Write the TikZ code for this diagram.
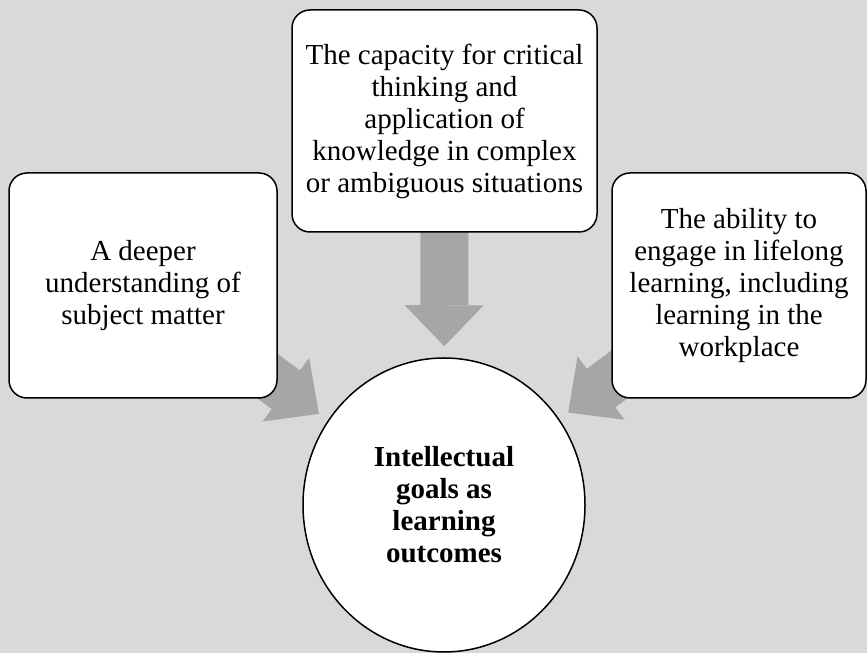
\documentclass[tikz,border=0pt]{standalone}
\usepackage{fontspec}
\setmainfont{Liberation Serif}
\usetikzlibrary{arrows.meta}
\usetikzlibrary{shapes.geometric}
\pgfdeclarelayer{paperlayer}
\pgfdeclarelayer{arrowlayer}
\pgfsetlayers{paperlayer,arrowlayer,main}
\definecolor{papergray}{RGB}{217,217,217}
\definecolor{arrowgray}{RGB}{166,166,166}

\begin{document}
\begin{tikzpicture}[x=1pt,y=1pt,font=\fontsize{29}{32}\selectfont,
	goalbox/.style={draw,fill=white,line width=1.5pt,rounded corners=18pt,align=center,inner sep=0pt,minimum height=225pt},
	fatarrow/.style={draw=arrowgray,fill=arrowgray,line width=48pt,shorten >=11pt,-{Triangle[length=41pt,width=79pt,line width=0pt]}}]
					\useasboundingbox (0,0) rectangle (867,653);
					\begin{pgfonlayer}{paperlayer}
						\fill[papergray] (0,0) rectangle (867,653);
					\end{pgfonlayer}
					\node[goalbox,minimum width=268pt] (deeper) at (143,367.5) {A deeper\\ understanding of\\ subject matter};
					\node[goalbox,minimum width=305pt,minimum height=222pt] (critical) at (444.5,532) {The capacity for critical\\ thinking and\\ application of\\ knowledge in complex\\ or ambiguous situations};
					\node[goalbox,minimum width=254pt] (lifelong) at (739,367.5) {The ability to\\ engage in lifelong\\ learning, including\\ learning in the\\ workplace};
					\node[draw,fill=white,line width=1.5pt,ellipse,inner sep=0pt,minimum width=282pt,minimum height=294pt,align=center,font=\fontsize{29}{32}\selectfont\bfseries] (outcomes) at (444,148) {Intellectual\\ goals as\\ learning\\ outcomes};
					\begin{pgfonlayer}{arrowlayer}
						\foreach \src in {deeper,critical,lifelong} {
							\draw[fatarrow] (\src.center) -- (outcomes);
						}
					\end{pgfonlayer}
				\end{tikzpicture}
\end{document}
